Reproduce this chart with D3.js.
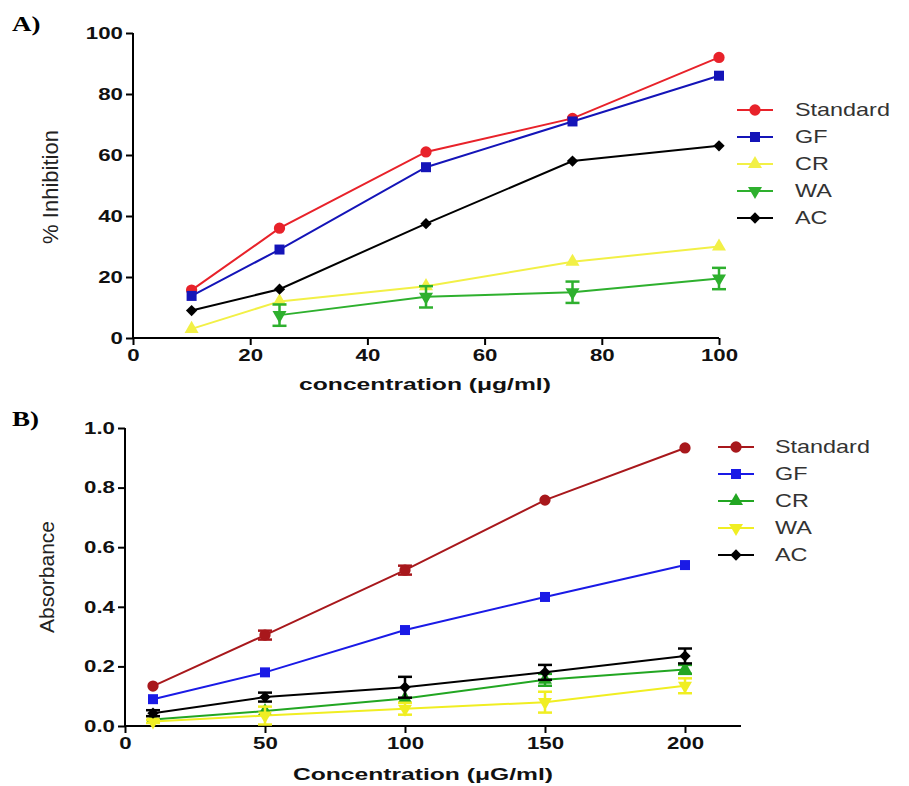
<!DOCTYPE html>
<meta charset="utf-8">
<script src="https://d3js.org/d3.v7.min.js"></script>
<style>
  body { margin: 0; background: #fff; }
  text { font-family: Arial, "Liberation Sans", sans-serif; }
  .tick text { font-weight: bold; font-size: 16.5px; fill: #111; }
  .domain, .tick line { stroke: #000; stroke-width: 2px; }
</style>
<body></body>
<script>
// ---- Panel A data ----
var concA = [10, 25, 50, 75, 100];
var namesA = ["Standard", "GF", "CR", "WA", "AC"];
var stdA = [15.7, 36, 61, 72, 92];
var gfA = [13.8, 29, 56, 71, 86];
var crA = [3, 12, 17, 25, 30];
var waA = [null, 7.5, 13.5, 15, 19.5];
var waErrA = [0, 3.5, 3.5, 3.5, 3.5];
var acA = [9, 16, 37.5, 58, 63];
var ticksXA = [0, 20, 40, 60, 80, 100];
var ticksYA = [0, 20, 40, 60, 80, 100];

// ---- Panel B data ----
var concB = [10, 50, 100, 150, 200];
var namesB = ["Standard", "GF", "CR", "WA", "AC"];
var stdB = [0.134, 0.305, 0.523, 0.758, 0.933];
var stdErrB = [0, 0.015, 0.015, 0, 0];
var gfB = [0.09, 0.18, 0.322, 0.433, 0.54];
var crB = [0.022, 0.05, 0.092, 0.155, 0.19];
var crErrB = [0, 0, 0, 0.02, 0.015];
var waB = [0.015, 0.035, 0.058, 0.08, 0.135];
var waErrB = [0.005, 0.03, 0.02, 0.035, 0.025];
var acB = [0.043, 0.097, 0.13, 0.18, 0.235];
var acErrB = [0.01, 0.015, 0.035, 0.025, 0.025];
var ticksXB = [0, 50, 100, 150, 200];
var ticksYB = [0, 0.2, 0.4, 0.6, 0.8, 1.0];

var svg = d3.select("body").append("svg")
    .attr("width", 909)
    .attr("height", 786);

// the source figure is stretched sideways, so horizontal text gets widened
var kx = 1.35;
function stretch(sel, k) {
    sel.each(function() {
        var t = d3.select(this);
        t.attr("x", (+t.attr("x") || 0) / k)
         .attr("transform", (t.attr("transform") || "") + " scale(" + k + ",1)");
    });
}

function marker(shape) {
    var s = d3.symbol().size(100);
    if (shape === "circle") return s.type(d3.symbolCircle)();
    if (shape === "square") return s.type(d3.symbolSquare)();
    if (shape === "tri" || shape === "itri") return s.type(d3.symbolTriangle).size(85)();
    return s.type(d3.symbolSquare).size(64)();
}
function markerRot(shape) {
    if (shape === "itri") return " rotate(180)";
    if (shape === "diamond") return " rotate(45)";
    return "";
}

function drawPanel(p) {
    var g = svg.append("g");
    var x = d3.scaleLinear().domain(p.xDomain).range([p.left, p.right]);
    var y = d3.scaleLinear().domain(p.yDomain).range([p.bottom, p.top]);

    var xa = g.append("g")
        .attr("transform", "translate(0," + p.bottom + ")")
        .call(d3.axisBottom(x).tickValues(p.ticksX).tickSize(7).tickPadding(4).tickFormat(p.fmtX))
        .call(function(a) { a.select(".domain").attr("d", "M" + p.left + ",0H" + x(p.xEnd)); });
    var ya = g.append("g")
        .attr("transform", "translate(" + p.left + ",0)")
        .call(d3.axisLeft(y).tickValues(p.ticksY).tickSize(7).tickPadding(3).tickFormat(p.fmtY))
        .call(function(a) { a.select(".domain").attr("d", "M0," + y(p.yDomain[1]) + "V" + p.bottom); });
    stretch(xa.selectAll(".tick text"), kx);
    stretch(ya.selectAll(".tick text"), kx);

    p.series.forEach(function(s) {
        var pts = p.conc.map(function(c, i) {
            return { x: c, y: s.values[i], e: s.err ? s.err[i] : 0 };
        }).filter(function(d) { return d.y != null; });

        g.append("path")
            .datum(pts)
            .attr("fill", "none")
            .attr("stroke", s.color)
            .attr("stroke-width", 2)
            .attr("d", d3.line().x(function(d) { return x(d.x); }).y(function(d) { return y(d.y); }));

        var eb = g.selectAll(null).data(pts.filter(function(d) { return d.e > 0; })).enter().append("g")
            .attr("stroke", s.color).attr("stroke-width", 2.5);
        eb.append("line")
            .attr("x1", function(d) { return x(d.x); }).attr("x2", function(d) { return x(d.x); })
            .attr("y1", function(d) { return y(d.y - d.e); }).attr("y2", function(d) { return y(d.y + d.e); });
        [-1, 1].forEach(function(sgn) {
            eb.append("line")
                .attr("x1", function(d) { return x(d.x) - 7; }).attr("x2", function(d) { return x(d.x) + 7; })
                .attr("y1", function(d) { return y(d.y + sgn * d.e); }).attr("y2", function(d) { return y(d.y + sgn * d.e); });
        });

        g.selectAll(null).data(pts).enter().append("path")
            .attr("d", marker(s.shape))
            .attr("fill", s.color)
            .attr("transform", function(d) { return "translate(" + x(d.x) + "," + y(d.y) + ")" + markerRot(s.shape); });
    });

    // legend
    var lg = g.selectAll(null).data(p.series).enter().append("g")
        .attr("transform", function(s, i) { return "translate(" + p.legX + "," + (p.legY + i * p.legStep) + ")"; });
    lg.append("line").attr("x1", 0).attr("x2", 36).attr("stroke", function(s) { return s.color; }).attr("stroke-width", 2);
    lg.append("path")
        .attr("d", function(s) { return marker(s.shape); })
        .attr("fill", function(s) { return s.color; })
        .attr("transform", function(s) { return "translate(18,0)" + markerRot(s.shape); });
    var lt = lg.append("text").attr("x", p.legTextX).attr("dy", "0.35em")
        .style("font-size", "18px").attr("fill", "#333")
        .text(function(s) { return s.name; });
    stretch(lt, 1.3);

    // axis titles
    g.append("text")
        .attr("transform", "translate(" + p.yTitleX + "," + p.yTitleY + ") rotate(-90)")
        .attr("text-anchor", "middle").style("font-size", p.yTitleSize).attr("fill", "#222")
        .text(p.yTitle);
    var xt = g.append("text")
        .attr("x", p.xTitleX).attr("y", p.xTitleY)
        .attr("text-anchor", "middle").style("font-size", "17px").style("font-weight", "bold")
        .attr("fill", "#111")
        .text(p.xTitle);
    stretch(xt, 1.45);
    var pl = g.append("text")
        .attr("x", 12).attr("y", p.top - 2)
        .style("font-family", "'Liberation Serif', 'DejaVu Serif', serif")
        .style("font-size", "20px").style("font-weight", "bold")
        .text(p.label);
    stretch(pl, 1.35);
}

drawPanel({
    label: "A)",
    conc: concA, xDomain: [0, 100], yDomain: [0, 100], xEnd: 100,
    left: 133, right: 719, top: 33, bottom: 338,
    ticksX: ticksXA, ticksY: ticksYA, fmtX: d3.format("d"), fmtY: d3.format("d"),
    series: [
        { name: namesA[0], values: stdA, color: "#e8222a", shape: "circle" },
        { name: namesA[1], values: gfA, color: "#1414b8", shape: "square" },
        { name: namesA[2], values: crA, color: "#f2f046", shape: "tri" },
        { name: namesA[3], values: waA, err: waErrA, color: "#2eb02e", shape: "itri" },
        { name: namesA[4], values: acA, color: "#000000", shape: "diamond" }
    ],
    legX: 737, legY: 110, legStep: 27, legTextX: 58,
    yTitle: "% Inhibition", yTitleX: 58, yTitleY: 187, yTitleSize: "22px",
    xTitle: "concentration (\u03bcg/ml)", xTitleX: 425, xTitleY: 390
});

drawPanel({
    label: "B)",
    conc: concB, xDomain: [0, 200], yDomain: [0, 1], xEnd: 220,
    left: 125, right: 685, top: 428, bottom: 726,
    ticksX: ticksXB, ticksY: ticksYB, fmtX: d3.format("d"), fmtY: d3.format(".1f"),
    series: [
        { name: namesB[0], values: stdB, err: stdErrB, color: "#a8181c", shape: "circle" },
        { name: namesB[1], values: gfB, color: "#1a1ae6", shape: "square" },
        { name: namesB[2], values: crB, err: crErrB, color: "#22a622", shape: "tri" },
        { name: namesB[3], values: waB, err: waErrB, color: "#f0ee22", shape: "itri" },
        { name: namesB[4], values: acB, err: acErrB, color: "#000000", shape: "diamond" }
    ],
    legX: 718, legY: 447, legStep: 27, legTextX: 57,
    yTitle: "Absorbance", yTitleX: 54, yTitleY: 577, yTitleSize: "21px",
    xTitle: "Concentration (\u03bcG/ml)", xTitleX: 423, xTitleY: 780
});
</script>
